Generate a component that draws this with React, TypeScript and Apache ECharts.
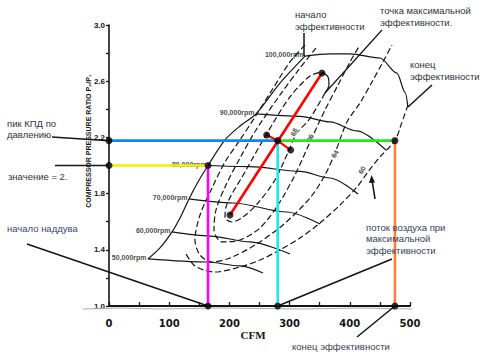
import React, { useEffect, useRef } from "react";
import * as echarts from "echarts";

type P = [number, number];

// ---- axes ----
const xLabelValues = [0, 100, 200, 300, 400, 500];
const yLabelValues = [1.0, 1.4, 1.8, 2.2, 2.6, 3.0];

// ---- surge line (CFM, pressure ratio) ----
const surgeLine: P[] = [
  [64.8, 1.335], [84.7, 1.413], [104.7, 1.527], [117.9, 1.626], [132.9, 1.762],
  [147.8, 1.883], [164.5, 2.0], [192.7, 2.182], [217.6, 2.281], [244.2, 2.367],
  [284, 2.587], [325.6, 2.779],
];

// ---- constant speed lines ----
const rpm50: P[] = [[64.8, 1.335], [162.8, 1.313], [217.6, 1.285], [255.8, 1.235]];
const rpm60: P[] = [[104.7, 1.527], [167.8, 1.498], [234.2, 1.456], [300.6, 1.37]];
const rpm70: P[] = [[132.9, 1.762], [206, 1.733], [295.6, 1.669], [350.5, 1.584]];
const rpm80: P[] = [[164.5, 2.0], [234.2, 1.992], [317.3, 1.958], [367.1, 1.911], [413.6, 1.797]];
const rpm90: P[] = [[244.2, 2.367], [317.3, 2.35], [367.1, 2.31], [411.9, 2.246], [460, 2.11]];
const rpm100: P[] = [[325.6, 2.779], [367.1, 2.795], [400.3, 2.795], [450.1, 2.765], [478.4, 2.658], [492, 2.52], [496.6, 2.416]];
const speedLines = [rpm50, rpm60, rpm70, rpm80, rpm90, rpm100];
const speedNames = ["50,000rpm", "60,000rpm", "70,000rpm", "80,000rpm", "90,000rpm", "100,000rpm"];

// ---- efficiency contours ----
const eff68: P[] = [
  [358.8, 2.516], [333, 2.33], [312, 2.23], [298, 2.1], [275.7, 1.897], [247.5, 1.733],
  [222.6, 1.634], [204.3, 1.598], [192.7, 1.626], [194.3, 1.705], [225.9, 1.954],
  [260.8, 2.217], [300.6, 2.488], [333.9, 2.637], [353.8, 2.665],
];
const eff68Hook: P[] = [[353.8, 2.665], [363.8, 2.63], [365.4, 2.573], [358.8, 2.516]];
const eff66: P[] = [
  [343.8, 2.836], [317.3, 2.694], [284, 2.502], [244.2, 2.253], [217.6, 2.053],
  [194.3, 1.861], [177.7, 1.683], [174.4, 1.541], [187.7, 1.456], [217.6, 1.47],
  [250.8, 1.555], [280.7, 1.719], [308.9, 1.932], [335.5, 2.182], [358.8, 2.395],
  [380.4, 2.573], [400.3, 2.737], [416.9, 2.858],
];
const eff64: P[] = [
  [325.6, 2.858], [300.6, 2.737], [270.7, 2.537], [242.5, 2.345], [217.6, 2.182],
  [192.7, 2.025], [171.1, 1.84], [151.2, 1.648], [142.8, 1.47], [151.2, 1.363],
  [171.1, 1.313], [201, 1.342], [242.5, 1.434], [289, 1.577], [333.9, 1.769],
  [358.8, 1.932], [375.4, 2.089], [395.3, 2.31], [416.9, 2.445], [436.8, 2.594],
  [455.1, 2.737], [470.1, 2.858],
];
const eff60: P[] = [
  [496.6, 2.431], [485, 2.288], [475, 2.177], [450.1, 2.061], [430.2, 1.954],
  [411.9, 1.847], [383.7, 1.719], [350.5, 1.591], [317.3, 1.484], [284, 1.399],
  [250.8, 1.327], [217.6, 1.278], [176.1, 1.242], [142.8, 1.285], [126.2, 1.384],
];
const effContours = [eff68, eff66, eff64, eff60];
const effNames = ["68", "66", "64", "60"];
const effNamePos: P[] = [[307.3, 2.238], [333.9, 2.196], [375.4, 2.082], [420.2, 1.968]];

// ---- key operating points ----
const peakPR = 2.177;
const boostPR = 2.0;
const surgeCFM = 164.5;
const peakCFM = 280.2;
const chokeCFM = 475;
const redBottom: P = [201, 1.648];
const redTop: P = [353.8, 2.658];
const effLeft: P = [261.9, 2.217];
const effRight: P = [301.8, 2.11];

const INK = "#151515";
const TXT = "#2f3340";

function solid(data: P[], width = 1.2, mono = false) {
  return { type: "line", data, smooth: 0.3, smoothMonotone: mono ? "x" : undefined, symbol: "none", clip: false, silent: true, z: 2,
    lineStyle: { color: INK, width } };
}
function dashed(data: P[]) {
  return { type: "line", data, smooth: 0.3, symbol: "none", clip: false, silent: true, z: 2,
    lineStyle: { color: INK, width: 1.2, type: [6, 3] } };
}
function colored(data: P[], color: string, width = 2.6) {
  return { type: "line", data, symbol: "none", clip: false, silent: true, z: 5,
    lineStyle: { color, width } };
}

export default function App() {
  const ref = useRef<HTMLDivElement>(null);
  useEffect(() => {
    const chart = echarts.init(ref.current!, null, { renderer: "svg" });
    const series: any[] = [];
    series.push(solid(surgeLine));
    speedLines.forEach((l) => series.push(solid(l, 1.2, true)));
    effContours.forEach((l) => series.push(dashed(l)));
    series.push(solid(eff68Hook));
    series.push({
      type: "scatter", data: speedLines.map((l) => l[0]), symbolSize: 1, clip: false, z: 3,
      itemStyle: { color: "rgba(0,0,0,0)" },
      label: { show: true, position: "left", distance: 1, color: INK, fontSize: 7, fontWeight: "bold",
        fontFamily: "Liberation Sans", offset: [0, -1.5], formatter: (p: any) => speedNames[p.dataIndex] },
    });
    series.push({
      type: "scatter", data: effNamePos, symbolSize: 1, clip: false, z: 3,
      itemStyle: { color: "rgba(0,0,0,0)" },
      label: { show: true, position: "inside", rotate: 62, color: INK, fontSize: 7, fontWeight: "bold",
        fontFamily: "Liberation Sans", backgroundColor: "#fff", padding: [0, 1],
        formatter: (p: any) => effNames[p.dataIndex] },
    });
    series.push(colored([[0, peakPR], [peakCFM, peakPR]], "#1185f0"));
    series.push(colored([[peakCFM, peakPR], [chokeCFM, peakPR]], "#22e818"));
    series.push(colored([[0, boostPR], [surgeCFM, boostPR]], "#f2ee00"));
    series.push(colored([[surgeCFM, boostPR], [surgeCFM, 1.0]], "#ff00ff"));
    series.push(colored([[peakCFM, peakPR], [peakCFM, 1.0]], "#22e6ee"));
    series.push(colored([[chokeCFM, peakPR], [chokeCFM, 1.0]], "#ff7f3a"));
    series.push(colored([redBottom, redTop], "#ff0000", 2.6));
    series.push(colored([effLeft, [peakCFM, peakPR], effRight], "#ff0000", 2.2));
    series.push({
      type: "scatter", clip: false, z: 6, symbolSize: 7, itemStyle: { color: "#000" },
      data: [[0, peakPR], [0, boostPR], [surgeCFM, boostPR], [surgeCFM, 1.0], [peakCFM, 1.0],
        [chokeCFM, 1.0], [chokeCFM, peakPR], [peakCFM, peakPR], redBottom, redTop, effLeft, effRight],
    });

    chart.setOption({
      animation: false,
      backgroundColor: "#fff",
      grid: { left: 109, right: 72, top: 25, bottom: 51 },
      xAxis: {
        type: "value", min: 0, max: 500, interval: 50,
        axisLine: { lineStyle: { color: INK, width: 2 } },
        axisTick: { inside: true, length: 4, lineStyle: { color: INK, width: 1.3 } },
        splitLine: { show: false },
        axisLabel: { margin: 12, color: INK, fontSize: 10, fontWeight: "bold", fontFamily: "DejaVu Sans",
          formatter: (v: number) => (xLabelValues.includes(Math.round(v)) && Math.abs(v - Math.round(v)) < 1e-6 ? String(Math.round(v)) : "") },
      },
      yAxis: {
        type: "value", min: 1.0, max: 3.0, interval: 0.2,
        axisLine: { lineStyle: { color: INK, width: 1.6 } },
        axisTick: { inside: false, length: 3, lineStyle: { color: INK, width: 1.3 } },
        splitLine: { show: false },
        axisLabel: { margin: 4, color: INK, fontSize: 8, fontWeight: "bold", fontFamily: "Liberation Sans",
          formatter: (v: number) => (yLabelValues.some((t) => Math.abs(t - v) < 1e-6) ? v.toFixed(1) : "") },
      },
      series,
    });

    const px = (p: P) => chart.convertToPixel({ gridIndex: 0 }, p) as number[];
    const line = (x1: number, y1: number, x2: number, y2: number, w = 1.5) => ({
      type: "line", shape: { x1, y1, x2, y2 }, style: { stroke: INK, lineWidth: w }, z: 1,
    });
    const text = (t: string, x: number, y: number, color = TXT, size = 9.5) => ({
      type: "text", x, y, z: 10,
      style: { text: t, fill: color, fontSize: size, fontFamily: "Liberation Sans", verticalAlign: "middle" },
    });
    const aPeak = px([0, peakPR]);
    const aBoost = px([0, boostPR]);
    const mBottom = px([surgeCFM, 1.0]);
    const cBottom = px([peakCFM, 1.0]);
    const oBottom = px([chokeCFM, 1.0]);
    const surgeTop = px(surgeLine[surgeLine.length - 1]);
    const endArc = px(rpm100[rpm100.length - 1]);
    const hookEnd = px(eff68Hook[eff68Hook.length - 1]);

    chart.setOption({
      graphic: [
        { type: "polyline", z: 1, shape: { points: [[83, 309], [120, 308], [160, 309], [220, 308], [300, 309], [360, 308], [412, 309]] },
          style: { stroke: "#aaa", lineWidth: 1, fill: null } },
        text("пик КПД по", 7, 123),
        text("давлению", 7, 134),
        line(52, 137, aPeak[0], aPeak[1]),
        text("значение = 2.", 8, 176),
        line(55, aBoost[1], aBoost[0], aBoost[1]),
        text("начало наддува", 7, 228, "#3a4676"),
        line(27, 244, mBottom[0], mBottom[1]),
        text("начало", 295, 14),
        text("эффективности", 295, 26),
        line(304, 33, 304, surgeTop[1]),
        line(304, surgeTop[1], surgeTop[0], surgeTop[1]),
        text("точка максимальной", 380, 10),
        text("эффективности.", 380, 22),
        line(382, 30, hookEnd[0], hookEnd[1], 1.2),
        text("конец", 410, 64),
        text("эффективности", 410, 76),
        line(432, 85, endArc[0], endArc[1]),
        text("поток воздуха при", 366, 227, "#38405a"),
        text("максимальной", 366, 238, "#38405a"),
        text("эффективности", 366, 250, "#38405a"),
        line(392, 259, cBottom[0], cBottom[1]),
        text("конец эффективности", 292, 346, "#38405a"),
        line(357, 337, oBottom[0], oBottom[1]),
        line(375, 199, 372, 180, 1.6),
        { type: "polygon", z: 10, shape: { points: [[371.5, 175], [369, 183], [375, 182.5]] }, style: { fill: INK } },
        { type: "text", x: 88, y: 141, rotation: Math.PI / 2, z: 10,
          style: { text: "COMPRESSOR PRESSURE RATIO P₂/P₁", fill: INK, fontSize: 7, fontWeight: "bold",
            fontFamily: "Liberation Sans", align: "center", verticalAlign: "middle" } },
        { type: "text", x: 253, y: 335, z: 10,
          style: { text: "CFM", fill: INK, fontSize: 11, fontWeight: "bold", fontFamily: "Liberation Serif",
            align: "center", verticalAlign: "middle" } },
      ],
    });
    return () => chart.dispose();
  }, []);
  return (
    <div ref={ref} style={{ position: "absolute", left: 0, top: 0, width: 482, height: 357, background: "#fff" }} />
  );
}
